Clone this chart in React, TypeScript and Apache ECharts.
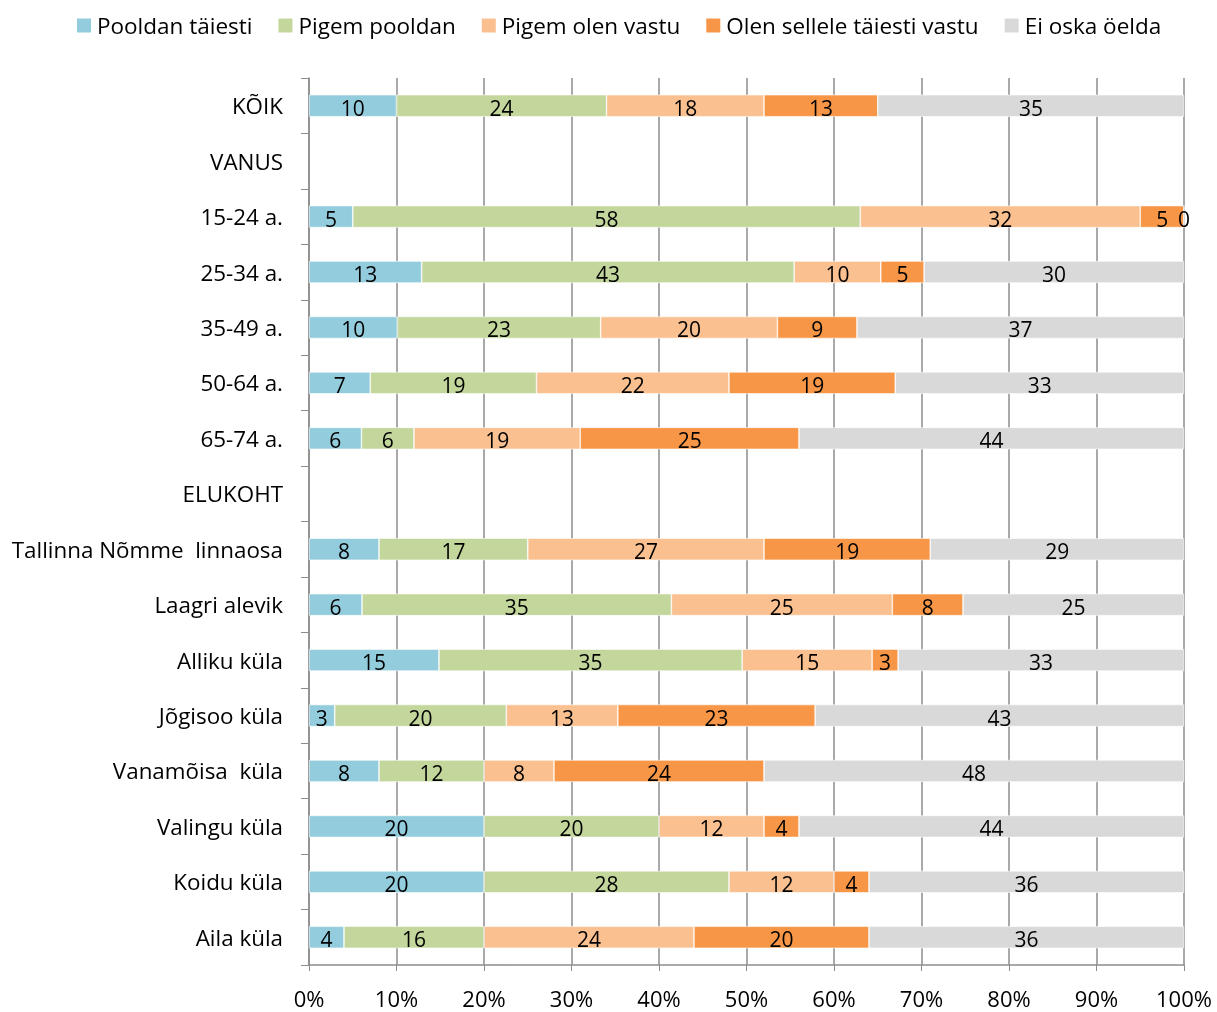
import React, { useEffect, useRef } from "react";
import * as echarts from "echarts";

const categories = [
  "KÕIK",
  "VANUS",
  "15-24 a.",
  "25-34 a.",
  "35-49 a.",
  "50-64 a.",
  "65-74 a.",
  "ELUKOHT",
  "Tallinna Nõmme  linnaosa",
  "Laagri alevik",
  "Alliku küla",
  "Jõgisoo küla",
  "Vanamõisa  küla",
  "Valingu küla",
  "Koidu küla",
  "Aila küla",
];

const seriesNames = [
  "Pooldan täiesti",
  "Pigem pooldan",
  "Pigem olen vastu",
  "Olen sellele täiesti vastu",
  "Ei oska öelda",
];

const pooldanTaiesti = [10, null, 5, 13, 10, 7, 6, null, 8, 6, 15, 3, 8, 20, 20, 4];
const pigemPooldan = [24, null, 58, 43, 23, 19, 6, null, 17, 35, 35, 20, 12, 20, 28, 16];
const pigemVastu = [18, null, 32, 10, 20, 22, 19, null, 27, 25, 15, 13, 8, 12, 12, 24];
const taiestiVastu = [13, null, 5, 5, 9, 19, 25, null, 19, 8, 3, 23, 24, 4, 4, 20];
const eiOska = [35, null, 0, 30, 37, 33, 44, null, 29, 25, 33, 43, 48, 44, 36, 36];

const colors = ["#93CDDD", "#C3D69B", "#FAC090", "#F79646", "#D9D9D9"];

const xTicks = [0, 10, 20, 30, 40, 50, 60, 70, 80, 90, 100];

const FONT = "'Open Sans', 'Noto Sans', sans-serif";

export default function App() {
  const ref = useRef<HTMLDivElement>(null);

  useEffect(() => {
    if (!ref.current) return;
    const chart = echarts.init(ref.current, undefined, { renderer: "svg" });
    const all = [pooldanTaiesti, pigemPooldan, pigemVastu, taiestiVastu, eiOska];
    const totals = categories.map((_, i) =>
      all.reduce((s, arr) => s + (arr[i] == null ? 0 : (arr[i] as number)), 0)
    );
    const series = all.map((arr, si) => ({
      name: seriesNames[si],
      type: "bar",
      stack: "total",
      barWidth: 22,
      itemStyle: { color: colors[si], borderColor: "#ffffff", borderWidth: 0.6 },
      label: {
        show: true,
        position: "inside",
        color: "#000",
        fontFamily: FONT,
        fontSize: 21,
        offset: [0, 2],
        formatter: (p: any) => (p.data && p.data.raw != null ? String(p.data.raw) : ""),
      },
      data: arr.map((v, i) =>
        v == null ? { value: null, raw: null } : { value: (v / totals[i]) * 100, raw: v }
      ),
    }));

    chart.setOption({
      animation: false,
      textStyle: { fontFamily: FONT },
      legend: {
        top: 9,
        left: 70,
        icon: "rect",
        itemWidth: 16,
        itemHeight: 16,
        itemGap: 24,
        textStyle: { fontSize: 22.5, color: "#000", fontFamily: FONT },
        data: seriesNames,
      },
      grid: { left: 309, right: 33, top: 78, bottom: 47, containLabel: false },
      xAxis: {
        type: "value",
        min: xTicks[0],
        max: xTicks[xTicks.length - 1],
        interval: 10,
        axisLine: { show: true, lineStyle: { color: "#8c8c8c", width: 1.5 } },
        axisTick: { show: true, length: 6, lineStyle: { color: "#8c8c8c" } },
        splitLine: { show: true, lineStyle: { color: "#8c8c8c", width: 1.5 } },
        axisLabel: {
          formatter: "{value}%",
          fontSize: 22,
          color: "#000",
          fontFamily: FONT,
          margin: 22,
        },
      },
      yAxis: {
        type: "category",
        inverse: true,
        data: categories,
        axisLine: { show: true, lineStyle: { color: "#8c8c8c", width: 1.5 } },
        axisTick: { show: true, length: 8, lineStyle: { color: "#8c8c8c" } },
        axisLabel: { fontSize: 22.4, color: "#000", fontFamily: FONT, margin: 26 },
      },
      series,
    });
    return () => chart.dispose();
  }, []);

  return (
    <div
      ref={ref}
      style={{ position: "fixed", left: 0, top: 0, width: 1217, height: 1012 }}
    />
  );
}
